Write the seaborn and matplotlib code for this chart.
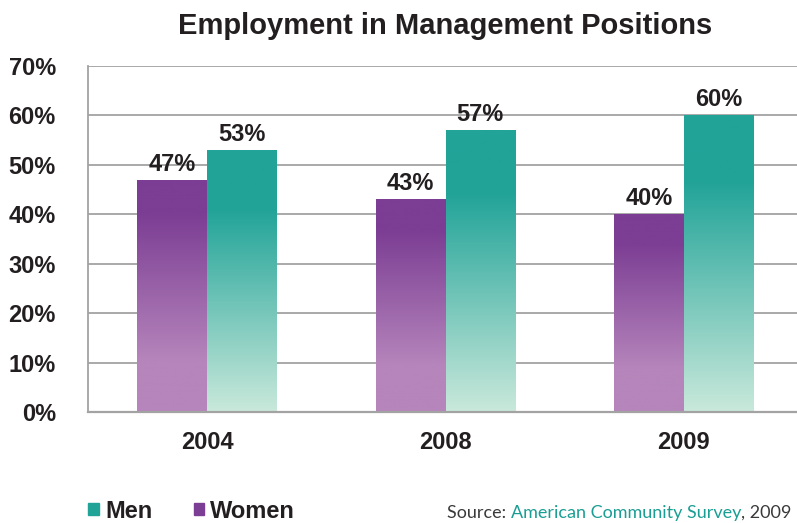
import numpy as np
import pandas as pd
import matplotlib
matplotlib.use("Agg")
import matplotlib.pyplot as plt
import seaborn as sns
from matplotlib.colors import LinearSegmentedColormap
from matplotlib.patches import Patch

# data
years = ["2004", "2008", "2009"]
women = [47, 43, 40]
men = [53, 57, 60]
y_ticks = [0, 10, 20, 30, 40, 50, 60, 70]

df = pd.DataFrame({
    "Year": years * 2,
    "Share": women + men,
    "Group": ["Women"] * 3 + ["Men"] * 3,
})

sns.set_style("white")
plt.rcParams["font.family"] = ["Liberation Sans", "DejaVu Sans"]

TXT = "#231f20"
GRID = "#a3a3a3"
PURPLE_TOP, PURPLE_BOT = "#7c3e94", "#b585bb"
TEAL_TOP, TEAL_BOT = "#21a398", "#c9e9db"

fig = plt.figure(figsize=(7.97, 5.23), dpi=100)
ax = fig.add_axes([88 / 797, 1 - 412 / 523, 715 / 797, 346 / 523])

sns.barplot(data=df, x="Year", y="Share", hue="Group", hue_order=["Women", "Men"],
            order=years, width=0.585, ax=ax, legend=False, saturation=1)

ax.set_xlim(-0.5, 2.5)
ax.set_ylim(0, 70)
ax.set_yticks(y_ticks)
ax.set_yticklabels([f"{t}%" for t in y_ticks])
ax.yaxis.grid(True, color=GRID, lw=1.3)
ax.set_axisbelow(True)
ax.tick_params(axis="y", length=7.2, width=1.3, color=GRID, pad=16,
               labelsize=17, labelcolor=TXT)
ax.tick_params(axis="x", length=0, pad=14, labelsize=17, labelcolor=TXT)
ax.set_xticks([-0.5, 0.5, 1.5, 2.5], minor=True)
ax.tick_params(axis="x", which="minor", length=7.2, width=1.3, color=GRID)
for lab in ax.get_xticklabels() + ax.get_yticklabels():
    lab.set_fontweight("bold")
ax.set_xlabel("")
ax.set_ylabel("")
for s in ["top", "right"]:
    ax.spines[s].set_visible(False)
ax.spines["left"].set_color(GRID)
ax.spines["left"].set_linewidth(1.3)
ax.spines["bottom"].set_color(GRID)
ax.spines["bottom"].set_linewidth(1.6)


def make_cmap(top, bot, dark_end, light_start):
    return LinearSegmentedColormap.from_list(
        "g", [(0, top), (dark_end, top), (light_start, bot), (1, bot)])


cm_w = make_cmap(PURPLE_TOP, PURPLE_BOT, 0.15, 0.78)
cm_m = make_cmap(TEAL_TOP, TEAL_BOT, 0.22, 1.0)

grad = np.linspace(0, 1, 256).reshape(-1, 1)
bars = list(ax.patches)
for i, p in enumerate(bars):
    x0, y0 = p.get_x(), p.get_y()
    w, h = p.get_width(), p.get_height()
    if h <= 0:
        continue
    cmap = cm_w if i < 3 else cm_m
    im = ax.imshow(grad, cmap=cmap, aspect="auto", origin="upper",
                   extent=[x0, x0 + w, y0, y0 + h], zorder=2)
    im.set_clip_path(p)
    p.set_facecolor("none")
    p.set_edgecolor("none")
    ax.annotate(f"{h:.0f}%", (x0 + w / 2, y0 + h), xytext=(0, 3),
                textcoords="offset points", ha="center", va="bottom",
                fontsize=17, fontweight="bold", color=TXT)

ax.set_xlim(-0.5, 2.5)
ax.set_ylim(0, 70)

fig.text(445 / 797, 1 - 26 / 523, "Employment in Management Positions",
         ha="center", va="center", fontsize=21, fontweight="bold", color=TXT)

handles = [Patch(color=TEAL_TOP, label="Men"), Patch(color=PURPLE_TOP, label="Women")]
leg = fig.legend(handles=handles, loc="center left", ncol=2, frameon=False,
                 bbox_to_anchor=(79 / 797, 1 - 511 / 523), handlelength=0.45,
                 handleheight=0.45, handletextpad=0.25, columnspacing=1.75,
                 borderaxespad=0, prop={"size": 17, "weight": "bold"})
for t in leg.get_texts():
    t.set_color(TXT)

# source line in three colored parts
fig.canvas.draw()
r = fig.canvas.get_renderer()
x = 447 / 797
ybase = 1 - 518 / 523
for part, col in [("Source: ", "#3a3a3a"), ("American Community Survey", "#1a9e94"),
                  (", 2009", "#3a3a3a")]:
    t = fig.text(x, ybase, part, ha="left", va="baseline", fontsize=13,
                 family=["Lato", "DejaVu Sans"], color=col)
    bb = t.get_window_extent(renderer=r)
    x += bb.width / fig.bbox.width

fig.savefig("out.png", dpi=100)
